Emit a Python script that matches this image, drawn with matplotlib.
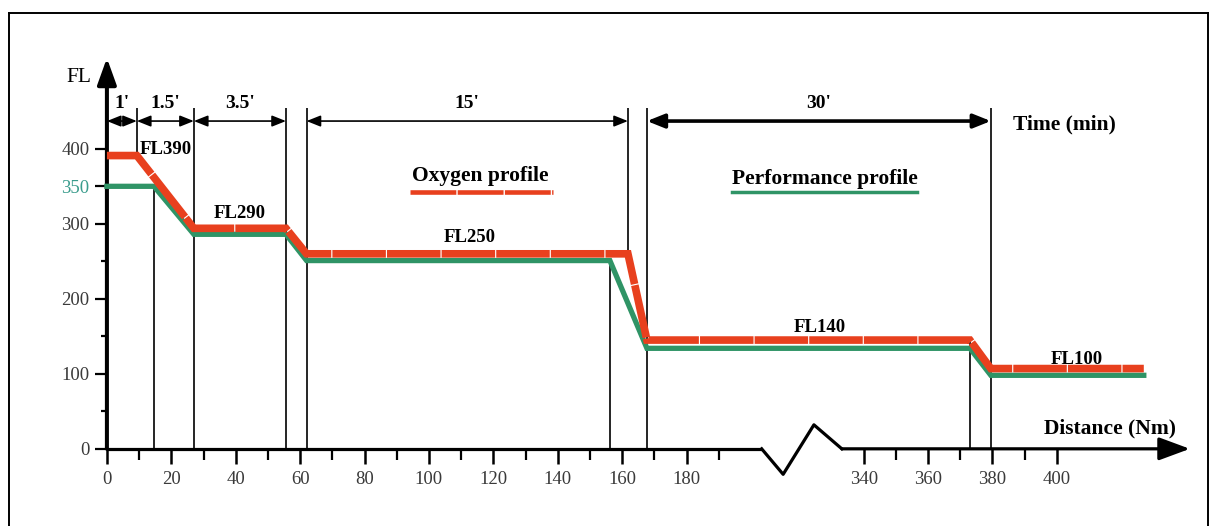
import numpy as np
import matplotlib
matplotlib.use('Agg')
import matplotlib.pyplot as plt
from matplotlib.lines import Line2D

# --- data (distance in Nm, level in FL) ---
oxy_dist = [0, 9.3, 27, 55.6, 62, 161.8, 167.7, 373, 379.5, 427]
oxy_fl = [391, 391, 294, 294, 260, 260, 145, 145, 107, 107]
perf_dist = [0, 14.6, 27, 55.6, 62, 156.2, 167.7, 373, 379.5, 427]
perf_fl = [350, 350, 286, 286, 251, 251, 134, 134, 98, 98]

# vertical guide lines: distance, bottom FL, top FL
guide_dist = [9.3, 14.6, 27, 55.6, 62, 156.2, 161.8, 167.7, 373, 379.5]
guide_lo = [391, 0, 0, 0, 0, 0, 260, 0, 0, 0]
guide_hi = [454, 350, 454, 454, 454, 251, 454, 454, 145, 454]

# time segments along the top
time_start = [0, 9.3, 27, 62, 167.7]
time_end = [9.3, 27, 55.6, 161.8, 379.5]
time_labels = ["1'", "1.5'", "3.5'", "15'", "30'"]

x_major = [0, 20, 40, 60, 80, 100, 120, 140, 160, 180, 340, 360, 380, 400]
x_minor = [10, 30, 50, 70, 90, 110, 130, 150, 170, 190, 350, 370, 390]
y_major = [0, 100, 200, 300, 350, 400]
y_minor = [50, 150, 250]

# axis break (zigzag) on the distance axis
break_dist = [215, 245, 288, 327]
break_fl = [0, -34, 32, 0]

RED = '#e8401e'
GREEN = '#2f9466'
W, H = 1214, 526


# broken distance scale: 200..335 Nm squeezed into 30 units
def fwd(d):
    d = np.asarray(d, dtype=float)
    return np.where(d <= 200, d, np.where(d < 335, 200 + (d - 200) * 30 / 135, d - 105))


def inv(u):
    u = np.asarray(u, dtype=float)
    return np.where(u <= 200, u, np.where(u < 230, 200 + (u - 200) * 135 / 30, u + 105))


def px(x, y):
    # pixel position -> axes fraction (axes fill the figure)
    return x / W, 1 - y / H


plt.rcParams['font.family'] = ['Liberation Serif', 'DejaVu Serif']

fig = plt.figure(figsize=(W / 100, H / 100), dpi=100)
ax = fig.add_axes([0, 0, 1, 1])
ax.set_xscale('function', functions=(fwd, inv))
ax.set_xlim(-33.2, 448.8)
ax.set_ylim(-102.9, 598.4)

for s in ax.spines.values():
    s.set_visible(False)
ax.spines['left'].set_position(('data', 0))
ax.spines['bottom'].set_position(('data', 0))

ax.set_xticks(x_major)
ax.set_xticks(x_minor, minor=True)
ax.set_xticklabels([str(v) for v in x_major])
ax.set_yticks(y_major)
ax.set_yticks(y_minor, minor=True)
ax.set_yticklabels([str(v) for v in y_major])
ax.tick_params(axis='x', which='major', direction='out', length=11, width=1.8,
               pad=5, labelsize=13.5, labelcolor='#3a3a3a')
ax.tick_params(axis='x', which='minor', direction='out', length=8, width=1.6)
ax.tick_params(axis='y', which='major', direction='out', length=8.5, width=1.6,
               pad=4, labelsize=13.5, labelcolor='#3a3a3a')
ax.tick_params(axis='y', which='minor', direction='out', length=4, width=1.6)
for lab in ax.get_yticklabels():
    if lab.get_text() == '350':
        lab.set_color('#3a9c8c')

# axes with arrows
ax.annotate('', xy=(0, 521), xytext=(0, 0),
            arrowprops=dict(arrowstyle='-|>,head_length=1.0,head_width=0.36',
                            mutation_scale=16, lw=2.9, color='black',
                            shrinkA=0, shrinkB=0))
ax.plot([0, break_dist[0]], [0, 0], color='black', lw=2.3, solid_capstyle='butt')
ax.plot(break_dist, break_fl, color='black', lw=2.3)
ax.annotate('', xy=(441.3, 0), xytext=(break_dist[-1], 0),
            arrowprops=dict(arrowstyle='-|>,head_length=1.0,head_width=0.37',
                            mutation_scale=19, lw=2.3, color='black',
                            shrinkA=0, shrinkB=0))

# guide lines
ax.vlines(guide_dist, guide_lo, guide_hi, color='black', lw=1.2, zorder=2)

# profiles
ax.plot(perf_dist, perf_fl, color=GREEN, lw=3.8, solid_joinstyle='miter', zorder=3)
ax.plot(oxy_dist, oxy_fl, color=RED, lw=5.5, linestyle=(0, (7, 0.15)),
        dash_joinstyle='miter', zorder=4)

# time arrows
for a, b, lab in zip(time_start, time_end, time_labels):
    thick = lab == "30'"
    ax.annotate('', xy=(b, 437), xytext=(a, 437),
                arrowprops=dict(arrowstyle='<|-|>,head_length=0.7,head_width=0.28',
                                mutation_scale=15 if thick else 12,
                                lw=2.6 if thick else 1.2, color='black',
                                shrinkA=0, shrinkB=0))
    mid = float(inv((fwd(a) + fwd(b)) / 2))
    ax.text(mid, 460, lab, ha='center', va='center', fontsize=14,
            fontweight='bold')

# labels
bold = dict(fontweight='bold', ha='center', va='center', transform=ax.transAxes)
ax.text(*px(79, 78), 'FL', fontsize=15.5, ha='center', va='center',
        transform=ax.transAxes)
ax.text(*px(1064, 124), 'Time (min)', fontsize=15.5, **bold)
ax.text(*px(1110, 428), 'Distance (Nm)', fontsize=15.5, **bold)
ax.text(*px(166, 149), 'FL390', fontsize=13.5, **bold)
ax.text(*px(240, 214), 'FL290', fontsize=13.5, **bold)
ax.text(*px(470, 238), 'FL250', fontsize=13.5, **bold)
ax.text(*px(820, 327), 'FL140', fontsize=13.5, **bold)
ax.text(*px(1077, 360), 'FL100', fontsize=13.5, **bold)
ax.text(*px(480, 176), 'Oxygen profile', fontsize=15.5, **bold)
ax.text(*px(825, 179), 'Performance profile', fontsize=15.5, **bold)
ax.plot([410 / W, 553 / W], [1 - 192.5 / H] * 2, color=RED, lw=3.3,
        linestyle=(0, (10, 0.3)), transform=ax.transAxes)
ax.plot([732 / W, 917 / W], [1 - 192 / H] * 2, color=GREEN, lw=2.5,
        transform=ax.transAxes)

# outer frame
for xs, ys in [([9 / W, 9 / W], [0, 1 - 12.7 / H]),
               ([9 / W, 1207.5 / W], [1 - 12.7 / H] * 2),
               ([1207.5 / W, 1207.5 / W], [0, 1 - 12.7 / H])]:
    fig.add_artist(Line2D(xs, ys, color='black', lw=1.4))

fig.savefig('out.png', dpi=100)
